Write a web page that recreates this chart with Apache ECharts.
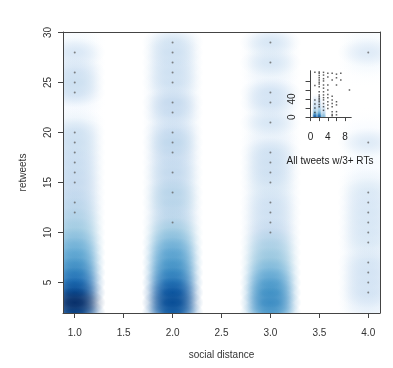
<!DOCTYPE html>
<html><head><meta charset="utf-8">
<script src="https://cdn.jsdelivr.net/npm/echarts@6/dist/echarts.min.js"></script>
<style>html,body{margin:0;padding:0;background:#fff}#c{width:393px;height:368px}</style>
</head><body><div id="c"></div>
<script>
// ---- data ----
const distances = [1, 2, 3, 4];
const retweetLevels = [2,3,4,5,6,7,8,9,10,11,12,13,14,15,16,17,18,19,20,21,22,23,24,25,26,27,28,29,30];
// smoothed density shade (0 = white, 1 = darkest) at each retweet level
const densityD1 = [0.9,1.0,0.9,0.78,0.7,0.62,0.56,0.5,0.44,0.4,0.37,0.35,0.33,0.33,0.32,0.31,0.3,0.3,0.28,0.16,0.07,0.13,0.27,0.3,0.27,0.18,0.24,0.12,0.04];
const densityD2 = [0.82,0.9,0.86,0.75,0.68,0.62,0.57,0.5,0.43,0.37,0.34,0.37,0.37,0.32,0.34,0.31,0.33,0.35,0.31,0.22,0.31,0.33,0.22,0.29,0.29,0.28,0.29,0.26,0.1];
const densityD3 = [0.6,0.68,0.66,0.6,0.52,0.46,0.42,0.38,0.33,0.29,0.29,0.28,0.23,0.26,0.29,0.29,0.28,0.18,0.16,0.25,0.16,0.27,0.27,0.13,0.16,0.25,0.16,0.25,0.1];
const densityD4 = [0.14,0.2,0.27,0.27,0.27,0.25,0.18,0.23,0.25,0.25,0.25,0.24,0.23,0.16,0.11,0.09,0.12,0.22,0.1,0.03,0,0,0,0,0.03,0.12,0.22,0.12,0.04];
// outlying points drawn as dots
const dotsD1 = [28,26,25,24,20,19,18,17,16,15,13,12];
const dotsD2 = [29,28,27,26,25,23,22,20,19,18,16,14,11];
const dotsD3 = [29,27,24,23,21,18,17,16,15,13,12,11,10];
const dotsD4 = [28,19,14,13,12,11,10,9,7,6,5,4];
const xTicks = [1,1.5,2,2.5,3,3.5,4];
const yTicks = [5,10,15,20,25,30];

// inset: all tweets w/3+ RTs
const insetDistances = [1,2,3];
const insetLevels = [0,5,10,15,20,25,30,35,40,45];
const insetDensity1 = [0.85,0.6,0.45,0.38,0.34,0.3,0.26,0.22,0.16,0.08];
const insetDensity2 = [0.85,0.62,0.48,0.4,0.36,0.32,0.28,0.24,0.18,0.1];
const insetDensity3 = [0.5,0.4,0.32,0.26,0.22,0.16,0.1,0.05,0,0];
const insetDotX = [1,2,3,4,5,6,7,9];
const insetDots = [
  [99,70,38,29,20,10],
  [100,97,92,87,82,77,73,67,56,49,45,41,38,34,28,23],
  [99,93,85,80,71,64,56,49,43,38,30,23,15],
  [97,89,71,60,50,43,34,27,19],
  [97,82,46,38,30,23,12,6,3],
  [95,87,71,34,27,12,5],
  [97,82],
  [60]
];
const insetXTicks = [0,2,4,6,8];
const insetXLabels = [0,4,8];
const insetYTicks = [0,20,40,60,80];
const insetYLabels = [0,40];

// ---- styling ----
const palette = ['#FFFFFF','#F7FBFF','#DEEBF7','#C6DBEF','#9ECAE1','#6BAED6','#4292C6','#2171B5','#08519C','#08306B'];
function hex(c){return [parseInt(c.slice(1,3),16),parseInt(c.slice(3,5),16),parseInt(c.slice(5,7),16)];}
function rgbAt(t){
  const p = Math.max(0,Math.min(1,t))*(palette.length-1);
  const i = Math.min(palette.length-2, Math.floor(p)), f = p-i;
  const a = hex(palette[i]), b = hex(palette[i+1]);
  return a.map((v,k)=>Math.round(v+(b[k]-v)*f));
}
function blob(w,h){
  return function(params, api){
    const p = api.coord([api.value(0), api.value(1)]);
    const c = rgbAt(api.value(2));
    const col = a => 'rgba('+c[0]+','+c[1]+','+c[2]+','+a+')';
    return {
      type:'circle', x:p[0], y:p[1], scaleX:w/h, silent:true,
      shape:{cx:0,cy:0,r:h/2},
      style:{fill:{type:'radial',x:0.5,y:0.5,r:0.5,colorStops:[
        {offset:0,color:col(1)},{offset:0.25,color:col(0.9)},{offset:0.55,color:col(0.55)},
        {offset:0.8,color:col(0.18)},{offset:1,color:col(0)}]}}
    };
  };
}
function buildDensity(xs, levels, dens){
  const out = [];
  xs.forEach((x,j)=>levels.forEach((y,i)=>{ if(dens[j][i]>0.02) out.push([x,y,dens[j][i]]); }));
  out.sort((a,b)=>a[2]-b[2]);
  return out;
}
const mainDensity = buildDensity(distances, retweetLevels, [densityD1,densityD2,densityD3,densityD4]);
const mainDots = [];
[dotsD1,dotsD2,dotsD3,dotsD4].forEach((arr,j)=>arr.forEach(y=>mainDots.push([distances[j],y])));
const inDensity = buildDensity(insetDistances, insetLevels, [insetDensity1,insetDensity2,insetDensity3]);
const inDots = [];
insetDots.forEach((arr,j)=>arr.forEach(y=>inDots.push([insetDotX[j],y])));

const font = 'Liberation Sans, Arial, sans-serif';
const txt = '#333', line = '#444';
const lineOnly = {show:true,lineStyle:{color:line,width:1}};
const off = {show:false};

const chart = echarts.init(document.getElementById('c'), null, {renderer:'canvas'});
chart.setOption({
  animation:false,
  backgroundColor:'#fff',
  grid:[
    {left:63, top:32, width:317, height:281},
    {left:309, top:71, width:42, height:47}
  ],
  xAxis:[
    {type:'value', gridIndex:0, min:0.88, max:4.12, position:'bottom', z:10,
     axisLine:lineOnly, splitLine:off,
     axisTick:{show:true, length:5, customValues:xTicks, lineStyle:{color:line}},
     axisLabel:{customValues:xTicks, formatter:v=>v.toFixed(1), margin:15, fontSize:10, color:txt, fontFamily:font},
     name:'social distance', nameLocation:'middle', nameGap:37, nameTextStyle:{fontSize:10,color:txt,fontFamily:font}},
    {type:'value', gridIndex:0, min:0.88, max:4.12, position:'top', z:10,
     axisLine:lineOnly, axisTick:off, axisLabel:off, splitLine:off},
    {type:'value', gridIndex:1, min:-0.36, max:9.36, position:'bottom', z:10,
     axisLine:lineOnly, splitLine:off,
     axisTick:{show:true, length:4, customValues:insetXTicks, lineStyle:{color:line}},
     axisLabel:{customValues:insetXLabels, margin:14, fontSize:10, color:'#222', fontFamily:font},
     name:'All tweets w/3+ RTs', nameLocation:'middle', nameGap:38, nameTextStyle:{fontSize:10,color:'#222',fontFamily:font}},
    {type:'value', gridIndex:1, min:-0.36, max:9.36, position:'top', z:10,
     axisLine:lineOnly, axisTick:off, axisLabel:off, splitLine:off}
  ],
  yAxis:[
    {type:'value', gridIndex:0, min:1.96, max:30.04, position:'left', z:10,
     axisLine:lineOnly, splitLine:off,
     axisTick:{show:true, length:5, customValues:yTicks, lineStyle:{color:line}},
     axisLabel:{customValues:yTicks, rotate:90, margin:10, fontSize:10, color:txt, fontFamily:font},
     name:'retweets', nameLocation:'middle', nameGap:35, nameTextStyle:{fontSize:10,color:txt,fontFamily:font}},
    {type:'value', gridIndex:0, min:1.96, max:30.04, position:'right', z:10,
     axisLine:lineOnly, axisTick:off, axisLabel:off, splitLine:off},
    {type:'value', gridIndex:1, min:-2, max:102, position:'left', z:10,
     axisLine:lineOnly, splitLine:off,
     axisTick:{show:true, length:5, customValues:insetYTicks, lineStyle:{color:line}},
     axisLabel:{customValues:insetYLabels, rotate:90, margin:12, fontSize:10, color:'#222', fontFamily:font}},
    {type:'value', gridIndex:1, min:-2, max:102, position:'right', z:10,
     axisLine:lineOnly, axisTick:off, axisLabel:off, splitLine:off}
  ],
  series:[
    {type:'custom', xAxisIndex:0, yAxisIndex:0, clip:true, renderItem:blob(62,30), data:mainDensity, z:1},
    {type:'scatter', xAxisIndex:0, yAxisIndex:0, symbol:'circle', symbolSize:2, itemStyle:{color:'#666'}, data:mainDots, z:3, silent:true},
    {type:'custom', xAxisIndex:2, yAxisIndex:2, clip:true, renderItem:blob(6,8), data:inDensity, z:1},
    {type:'scatter', xAxisIndex:2, yAxisIndex:2, symbol:'rect', symbolSize:[1.5,1.5], itemStyle:{color:'#333'}, data:inDots, z:3, silent:true}
  ]
});
</script></body></html>
